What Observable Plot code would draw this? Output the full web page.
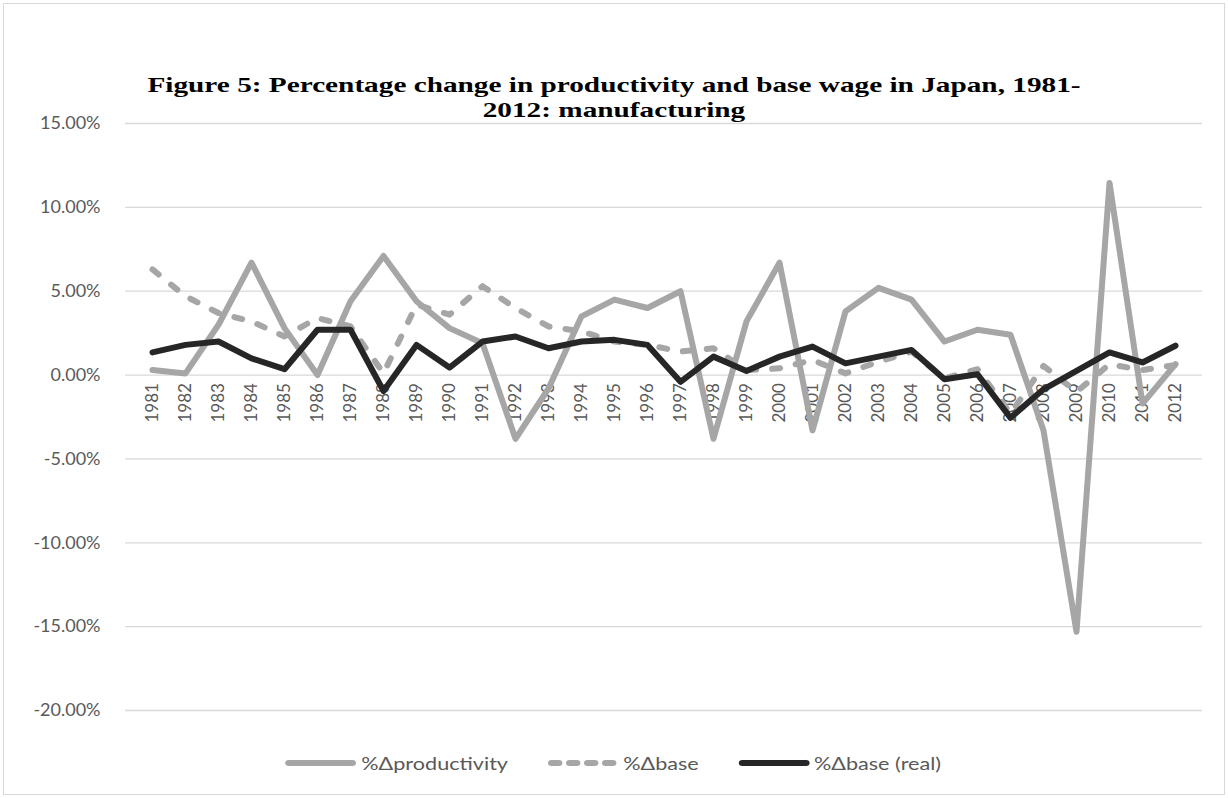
<!DOCTYPE html>
<html>
<head>
<meta charset="utf-8">
<script src="https://cdn.jsdelivr.net/npm/d3@7"></script>
<script src="https://cdn.jsdelivr.net/npm/@observablehq/plot@0.6"></script>
<style>
  html, body { margin: 0; padding: 0; background: #fff; }
  #frame { position: absolute; left: 3px; top: 3px; width: 1222px; height: 792px; box-sizing: border-box; border: 1px solid #d9d9d9; background: #fff; }
  #title { position: absolute; left: 0; width: 1220px; top: 69px; text-align: center; font-family: "Liberation Serif", "Times New Roman", serif; font-weight: bold; font-size: 22px; color: #000; transform: scaleX(1.33); transform-origin: 610px 0; }
  #title div { height: 24.5px; line-height: 24.5px; white-space: nowrap; }
  #chart { position: absolute; left: 0; top: 97px; }
  #legend { position: absolute; left: 0; width: 1220px; top: 748px; height: 22px; display: flex; justify-content: center; align-items: center; font-family: Lato, "Open Sans", sans-serif; font-size: 18px; color: #595959; transform: scaleX(1.2); transform-origin: 616px 0; }
  .item { display: flex; align-items: center; margin: 0 16px; }
  .item svg { margin-right: 3px; }
</style>
</head>
<body>
<div id="frame">
  <div id="title"><div>Figure 5: Percentage change in productivity and base wage in Japan, 1981-</div><div>2012: manufacturing</div></div>
  <div id="chart"></div>
  <div id="legend"></div>
</div>
<script>
const years = [1981,1982,1983,1984,1985,1986,1987,1988,1989,1990,1991,1992,1993,1994,1995,1996,1997,1998,1999,2000,2001,2002,2003,2004,2005,2006,2007,2008,2009,2010,2011,2012];
const productivity = [0.3,0.1,3.0,6.7,2.8,0.0,4.4,7.1,4.4,2.8,1.9,-3.8,-0.8,3.5,4.5,4.0,5.0,-3.8,3.2,6.7,-3.3,3.8,5.2,4.5,2.0,2.7,2.4,-3.3,-15.3,11.45,-1.7,0.65];
const base = [6.3,4.7,3.7,3.2,2.3,3.4,2.9,0.1,4.2,3.6,5.3,4.0,2.9,2.6,2.0,1.8,1.4,1.6,0.3,0.4,0.9,0.1,0.8,1.4,-0.2,0.35,-2.3,0.55,-1.0,0.65,0.3,0.6];
const baseReal = [1.35,1.8,2.0,1.0,0.35,2.7,2.7,-0.95,1.8,0.45,2.0,2.3,1.6,2.0,2.1,1.8,-0.4,1.1,0.25,1.1,1.7,0.7,1.1,1.5,-0.25,0.05,-2.55,-0.85,0.25,1.35,0.75,1.75];
const yTicks = [-20,-15,-10,-5,0,5,10,15];
const seriesNames = ["%\u0394productivity", "%\u0394base", "%\u0394base (real)"];

const rows = years.map((y, i) => ({year: String(y), prod: productivity[i], base: base[i], real: baseReal[i]}));

const gray = "#a6a6a6", dark = "#262626";

const chart = Plot.plot({
  width: 1220,
  height: 624,
  marginTop: 22,
  marginBottom: 15,
  marginLeft: 121,
  marginRight: 22,
  style: { fontFamily: "Lato, 'Open Sans', sans-serif", fontSize: "18px", color: "#595959", background: "transparent" },
  x: { type: "point", domain: years.map(String), padding: 0.5, axis: null },
  y: { domain: [-20, 15], axis: null },
  marks: [
    Plot.ruleY(yTicks, { stroke: "#d9d9d9", strokeWidth: 1.3 }),
    Plot.axisY(yTicks, { tickSize: 0, tickPadding: 25, tickFormat: d => d.toFixed(2) + "%", fill: "#595959", fontSize: 18, label: null }),
    Plot.text(rows, { x: "year", y: () => 0, text: "year", rotate: -90, textAnchor: "end", dy: 8, fill: "#595959", fontSize: 17 }),
    Plot.line(rows, { x: "year", y: "prod", stroke: gray, strokeWidth: 6, strokeLinejoin: "round", strokeLinecap: "round" }),
    Plot.line(rows, { x: "year", y: "base", stroke: gray, strokeWidth: 6, strokeDasharray: "8,16", strokeLinejoin: "round", strokeLinecap: "round" }),
    Plot.line(rows, { x: "year", y: "real", stroke: dark, strokeWidth: 6, strokeLinejoin: "round", strokeLinecap: "round" })
  ]
});
document.getElementById("chart").appendChild(chart);

const legend = document.getElementById("legend");
const styles = [
  { stroke: gray, dash: null },
  { stroke: gray, dash: "6,9" },
  { stroke: dark, dash: null }
];
seriesNames.forEach((name, i) => {
  const item = document.createElement("div");
  item.className = "item";
  const s = styles[i];
  item.innerHTML = `<svg width="61" height="12"><line x1="4" y1="6" x2="57" y2="6" stroke="${s.stroke}" stroke-width="6" stroke-linecap="round" ${s.dash ? `stroke-dasharray="${s.dash}"` : ""}/></svg><span>${name}</span>`;
  legend.appendChild(item);
});
</script>
</body>
</html>
